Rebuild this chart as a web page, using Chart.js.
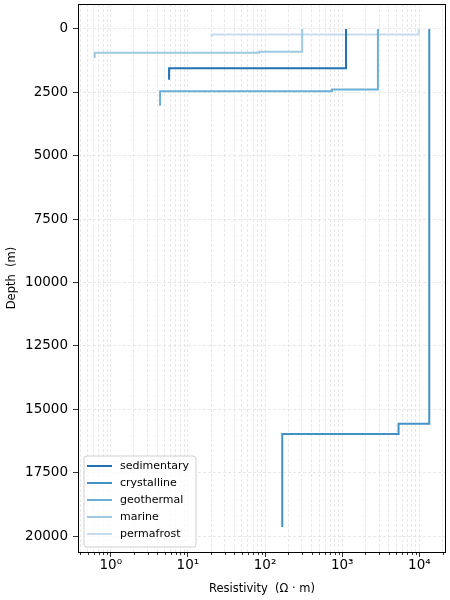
<!DOCTYPE html>
<html>
<head>
<meta charset="utf-8">
<script src="https://cdn.jsdelivr.net/npm/chart.js@4"></script>
<style>
  html, body { margin: 0; padding: 0; background: #fff; }
</style>
</head>
<body>
<canvas id="profileChart" width="450" height="600"></canvas>
<script>
// Resistivity models: layer resistivity (Ohm m) and layer boundaries (m)
const models = ['sedimentary', 'crystalline', 'geothermal', 'marine', 'permafrost'];
const modelColors = ['#2171b5', '#4292c6', '#6baed6', '#9ecae1', '#c6dbef'];

const sedimentaryRho = [1120, 5.7];
const sedimentaryDepth = [0, 1550, 2000];
const crystallineRho = [13430, 5370, 167];
const crystallineDepth = [0, 15570, 15970, 19640];
const geothermalRho = [2900, 735, 4.36];
const geothermalDepth = [0, 2385, 2460, 3030];
const marineRho = [303, 84, 0.62];
const marineDepth = [0, 896, 935, 1145];
const permafrostRho = [9800, 20.3];
const permafrostDepth = [0, 225, 324];

const depthTicks = [0, 2500, 5000, 7500, 10000, 12500, 15000, 17500, 20000];
const decadeTicks = [1, 10, 100, 1000, 10000];
const decadeLabels = ['10⁰', '10¹', '10²', '10³', '10⁴'];

const rhoList = [sedimentaryRho, crystallineRho, geothermalRho, marineRho, permafrostRho];
const depthList = [sedimentaryDepth, crystallineDepth, geothermalDepth, marineDepth, permafrostDepth];

// one point per layer top, plus the bottom of the last layer
function stepPoints(rho, depth) {
  const pts = rho.map((r, i) => ({ x: r, y: depth[i] }));
  pts.push({ x: rho[rho.length - 1], y: depth[depth.length - 1] });
  return pts;
}

// axis limits with 5% margin like matplotlib
const allRho = rhoList.flat();
const allDepth = depthList.flat();
const lo = Math.log10(Math.min(...allRho)), hi = Math.log10(Math.max(...allRho));
const xMin = Math.pow(10, lo - 0.05 * (hi - lo));
const xMax = Math.pow(10, hi + 0.05 * (hi - lo));
const dMax = Math.max(...allDepth);
const yMin = -0.05 * dMax;
const yMax = dMax * 1.05;

// log ticks: 1..9 inside each decade
const xTickValues = [];
for (let e = -1; e <= 4; e++) {
  for (let m = 1; m <= 9; m++) {
    const v = m * Math.pow(10, e);
    if (v >= xMin && v <= xMax) xTickValues.push(v);
  }
}
const isDecade = v => Math.abs(Math.log10(v) - Math.round(Math.log10(v))) < 1e-9;

Chart.defaults.font.family = 'DejaVu Sans';
Chart.defaults.color = '#000';

const framePlugin = {
  id: 'frame',
  afterDraw(chart) {
    const { ctx, chartArea: a } = chart;
    const xs = chart.scales.x;
    ctx.save();
    // minor ticks
    ctx.strokeStyle = '#000';
    ctx.lineWidth = 0.8;
    ctx.beginPath();
    xTickValues.forEach(v => {
      if (isDecade(v)) return;
      const px = Math.round(xs.getPixelForValue(v)) + 0.5;
      ctx.moveTo(px, a.bottom);
      ctx.lineTo(px, a.bottom + 3);
    });
    ctx.stroke();
    // axes box
    ctx.lineWidth = 1;
    ctx.strokeRect(Math.round(a.left) + 0.5, Math.round(a.top) + 0.5,
      Math.round(a.right - a.left) - 1, Math.round(a.bottom - a.top));
    // legend
    const bx = 84, by = 456, bw = 112, bh = 91, r = 3;
    ctx.beginPath();
    ctx.moveTo(bx + r, by);
    ctx.arcTo(bx + bw, by, bx + bw, by + bh, r);
    ctx.arcTo(bx + bw, by + bh, bx, by + bh, r);
    ctx.arcTo(bx, by + bh, bx, by, r);
    ctx.arcTo(bx, by, bx + bw, by, r);
    ctx.closePath();
    ctx.fillStyle = 'rgba(255,255,255,0.8)';
    ctx.fill();
    ctx.strokeStyle = '#d0d0d0';
    ctx.lineWidth = 1;
    ctx.stroke();
    ctx.font = '11px "DejaVu Sans"';
    ctx.textBaseline = 'middle';
    ctx.fillStyle = '#000';
    chart.data.datasets.forEach((ds, i) => {
      const cy = by + 10 + i * 17;
      ctx.strokeStyle = ds.borderColor;
      ctx.lineWidth = 2;
      ctx.beginPath();
      ctx.moveTo(87, cy);
      ctx.lineTo(112, cy);
      ctx.stroke();
      ctx.fillText(ds.label, 120, cy);
    });
    ctx.restore();
  }
};

new Chart(document.getElementById('profileChart'), {
  type: 'scatter',
  data: {
    datasets: models.map((name, i) => ({
      label: name,
      data: stepPoints(rhoList[i], depthList[i]),
      showLine: true,
      stepped: 'after',
      borderColor: modelColors[i],
      backgroundColor: modelColors[i],
      borderWidth: 2,
      pointRadius: 0
    }))
  },
  options: {
    responsive: false,
    animation: false,
    layout: { padding: { top: 4, right: 4, left: 0, bottom: 0 } },
    plugins: {
      legend: { display: false },
      tooltip: { enabled: false }
    },
    scales: {
      x: {
        type: 'logarithmic',
        min: xMin,
        max: xMax,
        afterBuildTicks: s => { s.ticks = xTickValues.map(v => ({ value: v, major: isDecade(v) })); },
        afterFit: s => { s.height = 48; s.paddingLeft = 0; s.paddingRight = 0; },
        ticks: {
          autoSkip: false,
          maxRotation: 0,
          padding: 0,
          font: { size: 13.5 },
          callback: v => {
            const k = decadeTicks.findIndex(d => Math.abs(d - v) < 1e-9 * d);
            return k >= 0 ? decadeLabels[k] : '';
          }
        },
        grid: {
          color: '#e2e2e2',
          lineWidth: 0.8,
          tickLength: 5,
          tickColor: c => (c.tick && isDecade(c.tick.value)) ? '#000' : 'rgba(0,0,0,0)'
        },
        border: { display: false, dash: [3, 2] },
        title: {
          display: true,
          text: 'Resistivity  (Ω · m)',
          font: { size: 11.5 },
          padding: { top: 0, bottom: 4 }
        }
      },
      y: {
        type: 'linear',
        reverse: true,
        min: yMin,
        max: yMax,
        afterBuildTicks: s => { s.ticks = depthTicks.map(v => ({ value: v })); },
        afterFit: s => { s.width = 78; s.paddingTop = 0; s.paddingBottom = 0; },
        ticks: {
          padding: 5,
          font: { size: 13.5 },
          callback: v => String(v)
        },
        grid: {
          color: '#e2e2e2',
          lineWidth: 0.8,
          tickLength: 5,
          tickColor: '#000'
        },
        border: { display: false, dash: [3, 2] },
        title: {
          display: true,
          text: 'Depth  (m)',
          font: { size: 11.5 },
          padding: { top: 5, bottom: 0 }
        }
      }
    }
  },
  plugins: [framePlugin]
});
</script>
</body>
</html>
